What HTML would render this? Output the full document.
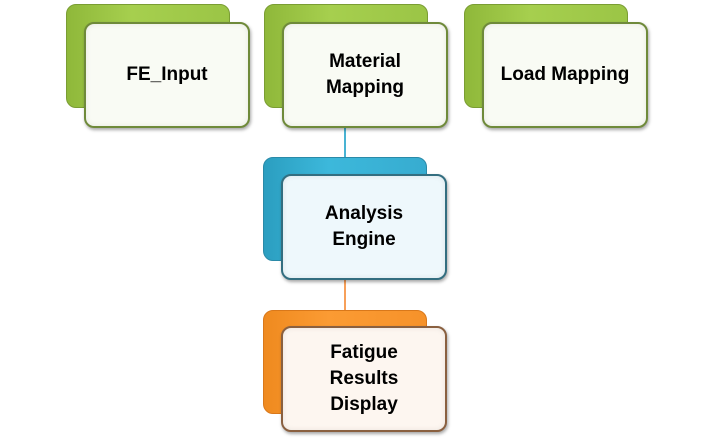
<!DOCTYPE html>
<html><head><style>
body{margin:0;width:709px;height:442px;background:#fff;position:relative;overflow:hidden;font-family:"Liberation Sans",sans-serif}
.b{position:absolute;width:164px;height:104px;border-radius:10px;box-sizing:border-box}
.f{position:absolute;width:166px;height:106px;border-radius:10px;box-sizing:border-box;border:2px solid;display:flex;align-items:center;justify-content:center;text-align:center;font-weight:bold;font-size:19px;line-height:26px;color:#000;box-shadow:1px 2px 3px rgba(0,0,0,.35),inset 0 0 6px rgba(0,0,0,.08)}
.g{background:linear-gradient(90deg,#8fb83a,#a6cf4e 40%,#9bc546);border:1px solid #7a9d33}
.gf{background:#f9fbf4;border-color:#6f8a3a}
.c{background:linear-gradient(90deg,#2b9ec0,#3cb8db 40%,#37acd0);border:1px solid #2a8aa8}
.cf{background:#eef8fc;border-color:#336e80}
.o{background:linear-gradient(90deg,#ef8a1f,#fb9b33 40%,#f6922a);border:1px solid #d9781a}
.of{background:#fdf6f0;border-color:#8a6040}
.l{position:absolute;width:2px;left:344px}
</style></head><body>
<div class="l" style="top:126px;height:33px;background:#49b3d3"></div>
<div class="l" style="top:277px;height:35px;background:#f7a05a"></div>
<div class="b g" style="left:66px;top:4px"></div>
<div class="f gf" style="left:84px;top:22px">FE_Input</div>
<div class="b g" style="left:264px;top:4px"></div>
<div class="f gf" style="left:282px;top:22px">Material<br>Mapping</div>
<div class="b g" style="left:464px;top:4px"></div>
<div class="f gf" style="left:482px;top:22px">Load Mapping</div>
<div class="b c" style="left:263px;top:157px"></div>
<div class="f cf" style="left:281px;top:174px">Analysis<br>Engine</div>
<div class="b o" style="left:263px;top:310px"></div>
<div class="f of" style="left:281px;top:326px">Fatigue<br>Results<br>Display</div>
</body></html>
